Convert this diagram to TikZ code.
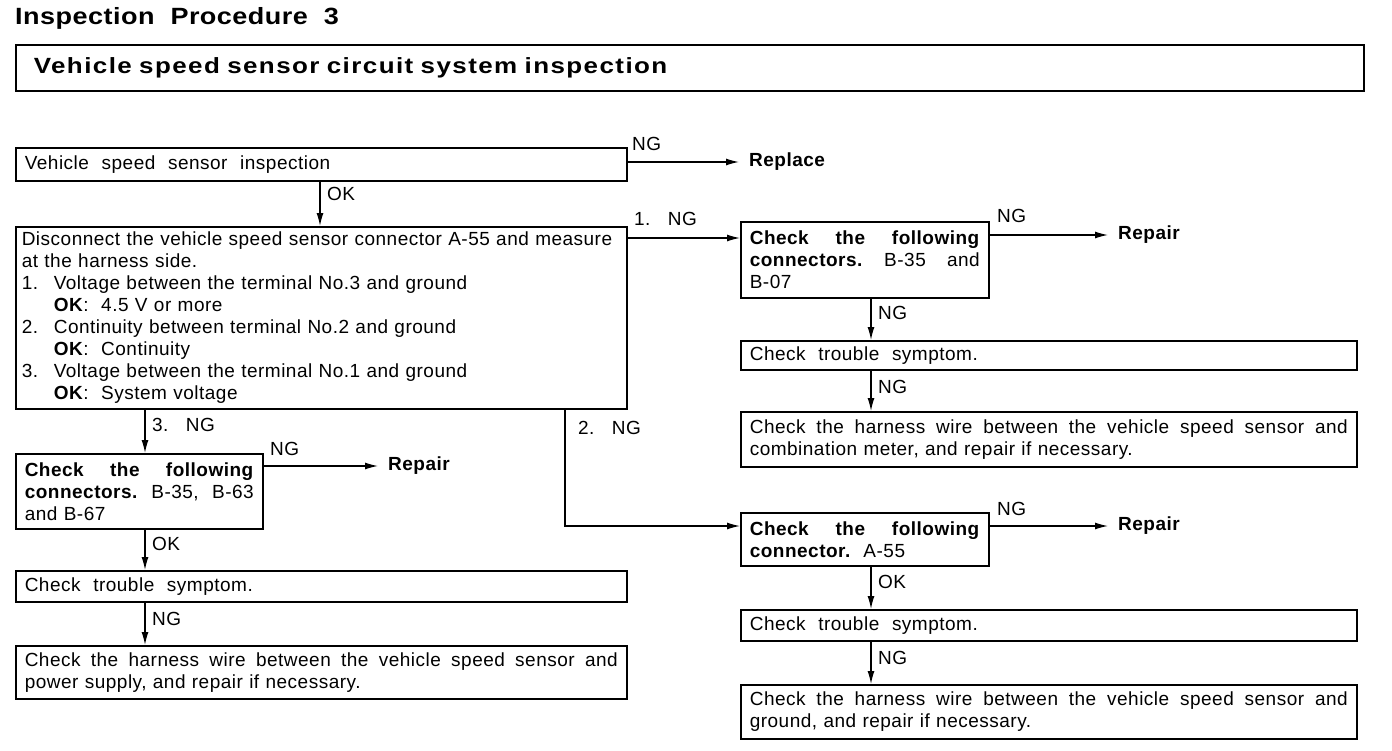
\documentclass[tikz,border=0pt]{standalone}
\usepackage{fontspec}
\setmainfont{Liberation Sans}[LetterSpace=2.6]
\newfontfamily\hdfont{Liberation Sans}[FakeStretch=1.15, LetterSpace=2]
\newfontfamily\ttlfont{Liberation Sans}[FakeStretch=1.18, LetterSpace=6.5]
\usetikzlibrary{arrows.meta}
\begin{document}
\begin{tikzpicture}[x=1pt,y=-1pt,
  txt/.style={font=\fontsize{19}{22}\selectfont, inner sep=0pt},
  boxn/.style={txt, draw, line width=1.6pt, rectangle, anchor=north west,
    inner xsep=9pt, inner ysep=0pt, align=left},
  lab/.style={txt, anchor=west},
  res/.style={txt, anchor=west, font=\fontsize{19}{22}\selectfont\bfseries},
  arr/.style={line width=1.3pt, -{Latex[length=13pt,width=7pt]}},
  ln/.style={line width=1.3pt}]
\useasboundingbox (0,0) rectangle (1392,750);

% headings
\node[txt, anchor=west, font=\hdfont\fontsize{23.5}{26}\selectfont\bfseries] (hd) at (15,18) {Inspection\ \ Procedure\ \ 3};
\node[boxn, minimum width=1348pt, minimum height=46pt, text width=1312pt, inner xsep=18pt,
  font=\ttlfont\fontsize{22}{24}\selectfont\bfseries] (tt) at (15,44) {Vehicle speed sensor circuit system inspection};

% left column
\node[boxn, minimum width=611pt, minimum height=33pt, text width=593pt] (b1) at (15,147)
  {Vehicle\ \ speed\ \ sensor\ \ inspection};
\node[boxn, minimum width=611pt, minimum height=182pt, text width=599pt, inner xsep=6pt] (b2) at (15,226)
  {Disconnect the vehicle speed sensor connector A-55 and measure\\
   at the harness side.\\
   \makebox[32pt][l]{1.}Voltage between the terminal No.3 and ground\\
   \hspace*{32pt}\textbf{OK}:\ \ 4.5 V or more\\
   \makebox[32pt][l]{2.}Continuity between terminal No.2 and ground\\
   \hspace*{32pt}\textbf{OK}:\ \ Continuity\\
   \makebox[32pt][l]{3.}Voltage between the terminal No.1 and ground\\
   \hspace*{32pt}\textbf{OK}:\ \ System voltage};
\node[boxn, minimum width=247pt, minimum height=75pt, text width=229pt] (b6) at (15,453)
  {\textbf{Check}\hfill\textbf{the}\hfill\textbf{following}\\
   \textbf{connectors.}\hfill B-35,\hfill B-63\\
   and B-67};
\node[boxn, minimum width=611pt, minimum height=31pt, text width=593pt] (b7) at (15,570)
  {Check\ \ trouble\ \ symptom.};
\node[boxn, minimum width=611pt, minimum height=53pt, text width=593pt] (b8) at (15,645)
  {Check\hfill the\hfill harness\hfill wire\hfill between\hfill the\hfill vehicle\hfill speed\hfill sensor\hfill and\\
   power supply, and repair if necessary.};

% right column
\node[boxn, minimum width=248pt, minimum height=76pt, text width=230pt] (b3) at (740,221)
  {\textbf{Check}\hfill\textbf{the}\hfill\textbf{following}\\
   \textbf{connectors.}\hfill B-35\hfill and\\
   B-07};
\node[boxn, minimum width=616pt, minimum height=29pt, text width=598pt] (b4) at (740,340)
  {Check\ \ trouble\ \ symptom.};
\node[boxn, minimum width=616pt, minimum height=55pt, text width=598pt] (b5) at (740,411)
  {Check\hfill the\hfill harness\hfill wire\hfill between\hfill the\hfill vehicle\hfill speed\hfill sensor\hfill and\\
   combination meter, and repair if necessary.};
\node[boxn, minimum width=248pt, minimum height=53pt, text width=230pt] (b9) at (740,512)
  {\textbf{Check}\hfill\textbf{the}\hfill\textbf{following}\\
   \textbf{connector.}\ \ A-55};
\node[boxn, minimum width=616pt, minimum height=31pt, text width=598pt] (b10) at (740,609)
  {Check\ \ trouble\ \ symptom.};
\node[boxn, minimum width=616pt, minimum height=54pt, text width=598pt] (b11) at (740,684)
  {Check\hfill the\hfill harness\hfill wire\hfill between\hfill the\hfill vehicle\hfill speed\hfill sensor\hfill and\\
   ground, and repair if necessary.};

% result texts
\node[res] (r1) at (749,162) {Replace};
\node[res] (r2) at (1118,235) {Repair};
\node[res] (r3) at (388,466) {Repair};
\node[res] (r4) at (1118,526) {Repair};

% columns
\coordinate (cM) at (320,0);
\coordinate (cL) at (145,0);
\coordinate (cR) at (871,0);
\coordinate (c2) at (565,0);

% connectors
\draw[arr] (b1.east |- r1.west) -- ([xshift=-10pt]r1.west);
\node[lab] (l1) at (632,144) {NG};
\draw[arr] (b1.south -| cM) -- (b2.north -| cM);
\node[lab] (l2) at (327,194) {OK};

\coordinate (y1) at (0,238);
\draw[arr] (b2.east |- y1) -- (b3.west |- y1);
\node[lab] (l3) at (634,219) {1.\ \ \ NG};
\draw[arr] (b3.east |- r2.west) -- ([xshift=-10pt]r2.west);
\node[lab] (l4) at (997,216) {NG};
\draw[arr] (b3.south -| cR) -- (b4.north -| cR);
\node[lab] (l5) at (878,313) {NG};
\draw[arr] (b4.south -| cR) -- (b5.north -| cR);
\node[lab] (l6) at (878,387) {NG};

\draw[arr] (b2.south -| cL) -- (b6.north -| cL);
\node[lab] (l7) at (152,425) {3.\ \ \ NG};
\draw[arr] (b6.east |- r3.west) -- ([xshift=-10pt]r3.west);
\node[lab] (l8) at (270,449) {NG};
\draw[arr] (b6.south -| cL) -- (b7.north -| cL);
\node[lab] (l9) at (152,544) {OK};
\draw[arr] (b7.south -| cL) -- (b8.north -| cL);
\node[lab] (l10) at (152,619) {NG};

\draw[arr] (b2.south -| c2) |- (b9.west |- r4.west);
\node[lab] (l11) at (578,428) {2.\ \ \ NG};
\draw[arr] (b9.east |- r4.west) -- ([xshift=-10pt]r4.west);
\node[lab] (l12) at (997,509) {NG};
\draw[arr] (b9.south -| cR) -- (b10.north -| cR);
\node[lab] (l13) at (878,582) {OK};
\draw[arr] (b10.south -| cR) -- (b11.north -| cR);
\node[lab] (l14) at (878,658) {NG};
\end{tikzpicture}
\end{document}
